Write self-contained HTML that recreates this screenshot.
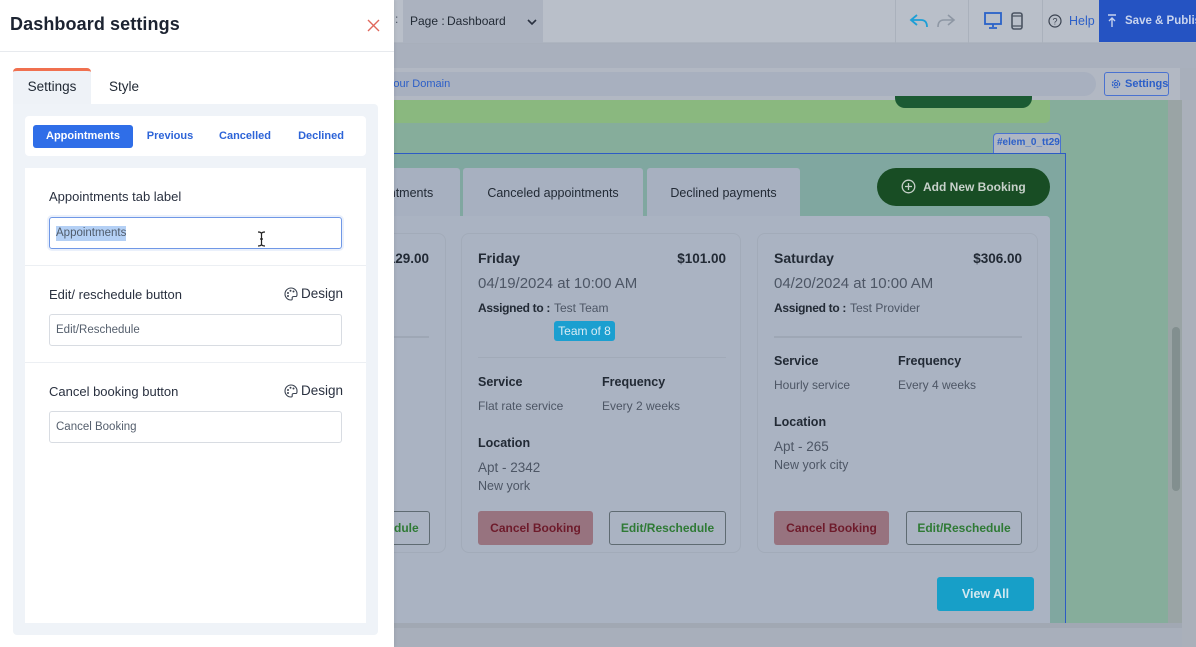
<!DOCTYPE html>
<html><head><meta charset="utf-8">
<style>
*{margin:0;padding:0;box-sizing:border-box}
html,body{width:1196px;height:647px;overflow:hidden;background:#a8afbb;font-family:"Liberation Sans",Arial,sans-serif}
.a{position:absolute}
.t{position:absolute;white-space:nowrap}
.dk{color:#222a35}
.gy{color:#4d5665}
.b{font-weight:bold}
</style></head><body>

<!-- RIGHT SIDE (dimmed editor) -->
<div class="a" style="left:394px;top:0;width:802px;height:43px;background:#b9bfc9;border-bottom:1px solid #aeb5c0"></div>
<div class="t" style="left:395px;top:12px;font-size:12px;color:#4d5665">:</div>
<div class="a" style="left:403px;top:0;width:140px;height:43px;background:#abb2bf"></div>
<div class="t dk" style="left:410px;top:14px;font-size:12px">Page :</div>
<div class="t dk" style="left:447px;top:14px;font-size:12px">Dashboard</div>
<svg class="a" style="left:527px;top:18px" width="10" height="8"><path d="M1 2 L5 6 L9 2" stroke="#2a3140" stroke-width="1.6" fill="none"/></svg>
<div class="a" style="left:895px;top:0;width:1px;height:43px;background:#aab1bc"></div>
<div class="a" style="left:968px;top:0;width:1px;height:43px;background:#aab1bc"></div>
<div class="a" style="left:1042px;top:0;width:1px;height:43px;background:#aab1bc"></div>
<svg class="a" style="left:909px;top:13px" width="20" height="16"><path d="M8 2 L2 7 L8 12 M2 7 H12 Q18 7 18 14" stroke="#1d9fd6" stroke-width="1.8" fill="none"/></svg>
<svg class="a" style="left:936px;top:13px" width="20" height="16"><path d="M12 2 L18 7 L12 12 M18 7 H8 Q2 7 2 14" stroke="#8e97a4" stroke-width="1.6" fill="none"/></svg>
<svg class="a" style="left:984px;top:12px" width="18" height="17"><rect x="1" y="1" width="16" height="11" stroke="#2a62c9" stroke-width="1.8" fill="none"/><path d="M9 12 V15 M5 16 H13" stroke="#2a62c9" stroke-width="1.8"/></svg>
<svg class="a" style="left:1011px;top:12px" width="12" height="18"><rect x="1" y="1" width="10" height="16" rx="2" stroke="#4b5462" stroke-width="1.6" fill="none"/><path d="M1 4 H11 M1 14 H11" stroke="#4b5462" stroke-width="1.2"/></svg>
<svg class="a" style="left:1048px;top:14px" width="14" height="14"><circle cx="7" cy="7" r="6" stroke="#3a4250" stroke-width="1.2" fill="none"/><text x="7" y="10.5" font-size="9" text-anchor="middle" fill="#3a4250" font-family="Liberation Sans">?</text></svg>
<div class="t" style="left:1069px;top:14px;font-size:12.5px;color:#2c5fc8">Help</div>
<div class="a" style="left:1099px;top:0;width:97px;height:42px;background:#2553c2"></div>
<svg class="a" style="left:1107px;top:14px" width="10" height="14"><path d="M1 1 H9 M5 4 V13 M2 7 L5 4 L8 7" stroke="#c6d2ee" stroke-width="1.4" fill="none"/></svg>
<div class="t b" style="left:1125px;top:15px;font-size:11.5px;color:#c9d4ee">Save &amp; Publish</div>

<!-- sub bar -->
<div class="a" style="left:394px;top:44px;width:802px;height:24px;background:#a9b0bd"></div>
<div class="a" style="left:394px;top:68px;width:786px;height:32px;background:#b2b8c3"></div>
<div class="a" style="left:380px;top:72px;width:716px;height:24px;border-radius:12px;background:#a8b0bf"></div>
<div class="t" style="left:387px;top:78px;font-size:11px;color:#2c5fc8">Your Domain</div>
<div class="a" style="left:1104px;top:72px;width:65px;height:24px;border:1px solid #4a72d0;border-radius:3px;background:#b3bac6"></div>
<svg class="a" style="left:1110px;top:78px" width="12" height="12"><circle cx="6" cy="6" r="3.6" stroke="#2c5fc8" stroke-width="1.3" fill="none" stroke-dasharray="2 1"/><circle cx="6" cy="6" r="1.5" stroke="#2c5fc8" stroke-width="1" fill="none"/></svg>
<div class="t b" style="left:1125px;top:78px;font-size:11px;color:#2c5fc8">Settings</div>

<!-- green area -->
<div class="a" style="left:394px;top:100px;width:774px;height:523px;background:#86ad9b"></div>
<div class="a" style="left:1168px;top:100px;width:14px;height:523px;background:#9aa4a5"></div>
<div class="a" style="left:1182px;top:100px;width:14px;height:547px;background:#aab0ba"></div>
<div class="a" style="left:1172px;top:327px;width:8px;height:164px;border-radius:4px;background:#828f8f"></div>
<div class="a" style="left:380px;top:100px;width:670px;height:23px;background:#8ab87f;border-radius:0 0 5px 5px"></div>
<div class="a" style="left:895px;top:96px;width:137px;height:12px;background:#1b5a33;border-radius:0 0 10px 10px"></div>

<!-- selected element -->
<div class="a" style="left:993px;top:133px;width:68px;height:21px;border:1px solid #4a72d0;border-bottom:none;border-radius:4px 4px 0 0;background:#aeb6c3"></div>
<div class="t b" style="left:997px;top:137px;font-size:10px;color:#2c5fc8">#elem_0_tt29</div>
<div class="a" style="left:380px;top:153px;width:686px;height:472px;border-top:1.5px solid #2d5bc4;border-right:1.5px solid #2d5bc4;background:#80a7a0"></div>

<!-- tabs -->
<div class="a" style="left:330px;top:168px;width:130px;height:50px;background:#a7b0c0;border-radius:3px 3px 0 0"></div>
<div class="t dk" style="left:330px;width:130px;text-align:center;top:186px;font-size:12.5px">Appointments</div>
<div class="a" style="left:463px;top:168px;width:180px;height:50px;background:#a7b0c0;border-radius:3px 3px 0 0"></div>
<div class="t dk" style="left:463px;width:180px;text-align:center;top:186px;font-size:12.5px">Canceled appointments</div>
<div class="a" style="left:647px;top:168px;width:153px;height:50px;background:#a7b0c0;border-radius:3px 3px 0 0"></div>
<div class="t dk" style="left:647px;width:153px;text-align:center;top:186px;font-size:12.5px">Declined payments</div>
<div class="a" style="left:877px;top:168px;width:173px;height:38px;background:#184d24;border-radius:19px"></div>
<svg class="a" style="left:901px;top:179px" width="15" height="15"><circle cx="7.5" cy="7.5" r="6.3" stroke="#c5d0c8" stroke-width="1.3" fill="none"/><path d="M7.5 4 V11 M4 7.5 H11" stroke="#c5d0c8" stroke-width="1.3"/></svg>
<div class="t b" style="left:923px;top:180px;font-size:12px;color:#c7d1ca">Add New Booking</div>

<!-- content panel -->
<div class="a" style="left:380px;top:216px;width:670px;height:409px;background:#aab3c2;border-radius:0 4px 0 0"></div>
<div class="a" style="left:394px;top:623px;width:788px;height:5px;background:#a1a8b3"></div>

<!-- card 1 (partial) -->
<div class="a" style="left:160px;top:233px;width:286px;height:320px;border:1px solid #a2abb9;border-radius:8px"></div>
<div class="t dk b" style="left:329px;width:100px;text-align:right;top:251px;font-size:13.5px">$129.00</div>
<div class="a" style="left:180px;top:336px;width:249px;height:2px;background:#9ea7b5"></div>
<div class="a" style="left:314px;top:511px;width:116px;height:34px;border:1px solid #5f6b72;border-radius:3px"></div>
<div class="t b" style="left:314px;width:116px;text-align:center;top:521px;font-size:12px;color:#2f7a35">Edit/Reschedule</div>

<!-- card 2 -->
<div class="a" style="left:461px;top:233px;width:280px;height:320px;border:1px solid #a2abb9;border-radius:8px"></div>
<div class="t dk b" style="left:478px;top:250px;font-size:14px">Friday</div>
<div class="t dk b" style="left:626px;width:100px;text-align:right;top:251px;font-size:13.5px">$101.00</div>
<div class="t gy" style="left:478px;top:275px;font-size:15px">04/19/2024 at 10:00 AM</div>
<div class="t dk b" style="left:478px;top:301px;font-size:12px;letter-spacing:-0.3px">Assigned to :</div>
<div class="t gy" style="left:554px;top:301px;font-size:12px">Test Team</div>
<div class="a" style="left:554px;top:321px;width:61px;height:20px;background:#1b9fd0;border-radius:3px"></div>
<div class="t" style="left:554px;width:61px;text-align:center;top:324px;font-size:12px;color:#d8ecf5">Team of 8</div>
<div class="a" style="left:478px;top:357px;width:248px;height:1px;background:#a1aab8"></div>
<div class="t dk b" style="left:478px;top:375px;font-size:12.5px">Service</div>
<div class="t dk b" style="left:602px;top:375px;font-size:12.5px">Frequency</div>
<div class="t gy" style="left:478px;top:399px;font-size:12px">Flat rate service</div>
<div class="t gy" style="left:602px;top:399px;font-size:12px">Every 2 weeks</div>
<div class="t dk b" style="left:478px;top:436px;font-size:12.5px">Location</div>
<div class="t gy" style="left:478px;top:460px;font-size:13.5px">Apt - 2342</div>
<div class="t gy" style="left:478px;top:479px;font-size:12.5px">New york</div>
<div class="a" style="left:478px;top:511px;width:115px;height:34px;background:#97737f;border-radius:3px"></div>
<div class="t b" style="left:478px;width:115px;text-align:center;top:521px;font-size:12px;color:#6e1b2b">Cancel Booking</div>
<div class="a" style="left:609px;top:511px;width:117px;height:34px;border:1px solid #5f6b72;border-radius:3px"></div>
<div class="t b" style="left:609px;width:117px;text-align:center;top:521px;font-size:12px;color:#2f7a35">Edit/Reschedule</div>

<!-- card 3 -->
<div class="a" style="left:757px;top:233px;width:281px;height:320px;border:1px solid #a2abb9;border-radius:8px"></div>
<div class="t dk b" style="left:774px;top:250px;font-size:14px">Saturday</div>
<div class="t dk b" style="left:922px;width:100px;text-align:right;top:251px;font-size:13.5px">$306.00</div>
<div class="t gy" style="left:774px;top:275px;font-size:15px">04/20/2024 at 10:00 AM</div>
<div class="t dk b" style="left:774px;top:301px;font-size:12px;letter-spacing:-0.3px">Assigned to :</div>
<div class="t gy" style="left:850px;top:301px;font-size:12px">Test Provider</div>
<div class="a" style="left:774px;top:336px;width:248px;height:2px;background:#9ea7b5"></div>
<div class="t dk b" style="left:774px;top:354px;font-size:12.5px">Service</div>
<div class="t dk b" style="left:898px;top:354px;font-size:12.5px">Frequency</div>
<div class="t gy" style="left:774px;top:378px;font-size:12px">Hourly service</div>
<div class="t gy" style="left:898px;top:378px;font-size:12px">Every 4 weeks</div>
<div class="t dk b" style="left:774px;top:415px;font-size:12.5px">Location</div>
<div class="t gy" style="left:774px;top:439px;font-size:13.5px">Apt - 265</div>
<div class="t gy" style="left:774px;top:458px;font-size:12.5px">New york city</div>
<div class="a" style="left:774px;top:511px;width:115px;height:34px;background:#97737f;border-radius:3px"></div>
<div class="t b" style="left:774px;width:115px;text-align:center;top:521px;font-size:12px;color:#6e1b2b">Cancel Booking</div>
<div class="a" style="left:906px;top:511px;width:116px;height:34px;border:1px solid #5f6b72;border-radius:3px"></div>
<div class="t b" style="left:906px;width:116px;text-align:center;top:521px;font-size:12px;color:#2f7a35">Edit/Reschedule</div>

<div class="a" style="left:937px;top:577px;width:97px;height:34px;background:#179fc8;border-radius:3px"></div>
<div class="t b" style="left:937px;width:97px;text-align:center;top:587px;font-size:12.5px;color:#d3e8f0">View All</div>

<!-- LEFT PANEL -->
<div class="a" style="left:0;top:0;width:394px;height:647px;background:#fff;box-shadow:1px 0 3px rgba(0,0,0,0.08)"></div>
<div class="t b" style="left:10px;top:14px;font-size:18px;color:#1c2331;letter-spacing:0.1px">Dashboard settings</div>
<svg class="a" style="left:367px;top:19px" width="13" height="13"><path d="M1 1 L12 12 M12 1 L1 12" stroke="#e0685c" stroke-width="1.4"/></svg>
<div class="a" style="left:0;top:51px;width:394px;height:1px;background:#e7eaee"></div>

<div class="a" style="left:13px;top:68px;width:78px;height:37px;background:#eef2f7;border-top:3px solid #f0704f;border-radius:4px 4px 0 0"></div>
<div class="t" style="left:13px;width:78px;text-align:center;top:79px;font-size:13.5px;color:#222a35">Settings</div>
<div class="t" style="left:109px;top:79px;font-size:13.5px;color:#222a35">Style</div>
<div class="a" style="left:13px;top:104px;width:365px;height:531px;background:#eff3f8;border-radius:0 4px 4px 4px"></div>

<div class="a" style="left:25px;top:116px;width:341px;height:40px;background:#fff;border-radius:4px"></div>
<div class="a" style="left:33px;top:125px;width:100px;height:23px;background:#2f6ee8;border-radius:3px"></div>
<div class="t b" style="left:33px;width:100px;text-align:center;top:130px;font-size:11px;color:#fff">Appointments</div>
<div class="t b" style="left:130px;width:80px;text-align:center;top:130px;font-size:11px;color:#2d64d8">Previous</div>
<div class="t b" style="left:205px;width:80px;text-align:center;top:130px;font-size:11px;color:#2d64d8">Cancelled</div>
<div class="t b" style="left:281px;width:80px;text-align:center;top:130px;font-size:11px;color:#2d64d8">Declined</div>

<div class="a" style="left:25px;top:168px;width:341px;height:455px;background:#fff"></div>
<div class="t" style="left:49px;top:189px;font-size:13px;color:#2a3140">Appointments tab label</div>
<div class="a" style="left:47px;top:215px;width:297px;height:36px;border-radius:5px;background:#eaf0fb"></div>
<div class="a" style="left:49px;top:217px;width:293px;height:32px;border:1px solid #7098e6;border-radius:3px;background:#fff"></div>
<div class="a" style="left:56px;top:226px;width:70px;height:15px;background:#b4d0f5"></div>
<div class="t" style="left:56px;top:227px;font-size:11.5px;color:#4f5b6b">Appointments</div>
<svg class="a" style="left:257px;top:231px" width="9" height="16"><path d="M1 1 Q4.5 1 4.5 3 V13 Q4.5 15 1 15 M8 1 Q4.5 1 4.5 3 M8 15 Q4.5 15 4.5 13 M3 8 H6" stroke="#222" stroke-width="1.2" fill="none"/></svg>
<div class="a" style="left:25px;top:265px;width:341px;height:1px;background:#eceff3"></div>

<div class="t" style="left:49px;top:287px;font-size:13px;color:#2a3140">Edit/ reschedule button</div>
<svg class="a" style="left:284px;top:287px" width="14" height="14"><path d="M7 1 A6 6 0 1 0 7 13 Q8.5 13 8.2 11.5 Q7.8 9.5 10 9.5 H12 Q13 9.5 13 7.5 A6 6 0 0 0 7 1 Z" stroke="#3a4250" stroke-width="1.1" fill="none"/><circle cx="4" cy="6" r="1" fill="#3a4250"/><circle cx="6.5" cy="3.8" r="1" fill="#3a4250"/><circle cx="9.5" cy="4.5" r="1" fill="#3a4250"/><circle cx="4" cy="9" r="1" fill="#3a4250"/></svg>
<div class="t" style="left:301px;top:286px;font-size:13.5px;color:#2a3140">Design</div>
<div class="a" style="left:49px;top:314px;width:293px;height:32px;border:1px solid #d8dce2;border-radius:3px"></div>
<div class="t" style="left:56px;top:324px;font-size:11.5px;color:#555f6d">Edit/Reschedule</div>
<div class="a" style="left:25px;top:362px;width:341px;height:1px;background:#eceff3"></div>

<div class="t" style="left:49px;top:384px;font-size:13px;color:#2a3140">Cancel booking button</div>
<svg class="a" style="left:284px;top:384px" width="14" height="14"><path d="M7 1 A6 6 0 1 0 7 13 Q8.5 13 8.2 11.5 Q7.8 9.5 10 9.5 H12 Q13 9.5 13 7.5 A6 6 0 0 0 7 1 Z" stroke="#3a4250" stroke-width="1.1" fill="none"/><circle cx="4" cy="6" r="1" fill="#3a4250"/><circle cx="6.5" cy="3.8" r="1" fill="#3a4250"/><circle cx="9.5" cy="4.5" r="1" fill="#3a4250"/><circle cx="4" cy="9" r="1" fill="#3a4250"/></svg>
<div class="t" style="left:301px;top:383px;font-size:13.5px;color:#2a3140">Design</div>
<div class="a" style="left:49px;top:411px;width:293px;height:32px;border:1px solid #d8dce2;border-radius:3px"></div>
<div class="t" style="left:56px;top:421px;font-size:11.5px;color:#555f6d">Cancel Booking</div>

</body></html>
